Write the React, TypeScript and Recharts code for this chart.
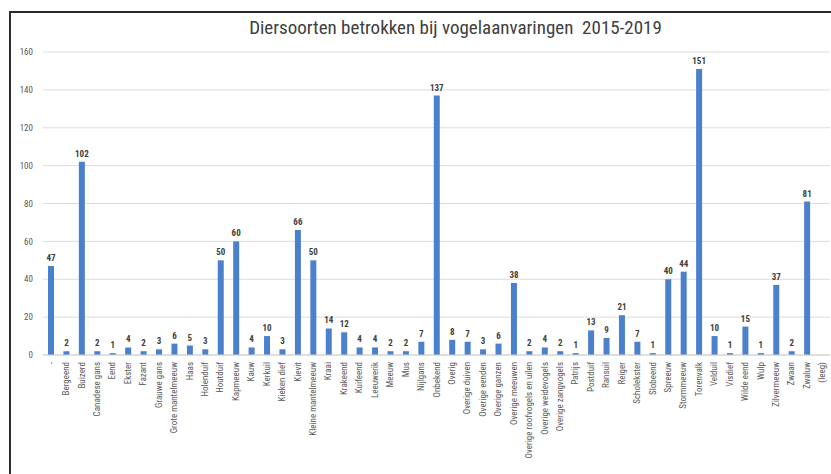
import React from 'react'
import { BarChart, Bar, XAxis, YAxis, CartesianGrid, LabelList } from 'recharts'

const soorten = [
  '-', 'Bergeend', 'Buizerd', 'Canadese gans', 'Eend', 'Ekster', 'Fazant', 'Grauwe gans',
  'Grote mantelmeeuw', 'Haas', 'Holenduif', 'Houtduif', 'Kapmeeuw', 'Kauw', 'Kerkuil',
  'Kieken dief', 'Kievit', 'Kleine mantelmeeuw', 'Kraai', 'Krakeend', 'Kuifeend', 'Leeuwerik',
  'Meeuw', 'Mus', 'Nijlgans', 'Onbekend', 'Overig', 'Overige duiven', 'Overige eenden',
  'Overige ganzen', 'Overige meeuwen', 'Overige roofvogels en uilen', 'Overige weidevogels',
  'Overige zangvogels', 'Patrijs', 'Postduif', 'Ransuil', 'Reiger', 'Scholekster', 'Slobeend',
  'Spreeuw', 'Stormmeeuw', 'Torenvalk', 'Velduil', 'Visdief', 'Wilde eend', 'Wulp',
  'Zilvermeeuw', 'Zwaan', 'Zwaluw', '(leeg)',
]

const aantallen: (number | null)[] = [
  47, 2, 102, 2, 1, 4, 2, 3,
  6, 5, 3, 50, 60, 4, 10,
  3, 66, 50, 14, 12, 4, 4,
  2, 2, 7, 137, 8, 7, 3,
  6, 38, 2, 4,
  2, 1, 13, 9, 21, 7, 1,
  40, 44, 151, 10, 1, 15, 1,
  37, 2, 81, null,
]

const yTicks = [0, 20, 40, 60, 80, 100, 120, 140, 160]

const data = soorten.map((naam, i) => ({ naam, aantal: aantallen[i] }))

const font = "'Liberation Sans Narrow', 'Roboto Condensed', 'Liberation Sans', sans-serif"

const CategoryTick = (props: any) => {
  const { x, y, payload } = props
  return (
    <text
      x={x}
      y={y}
      dy={3}
      transform={`rotate(-90, ${x}, ${y})`}
      textAnchor="end"
      fontSize={9}
      fill="#595959"
      fontFamily={font}
    >
      {payload.value}
    </text>
  )
}

export default function App() {
  return (
    <div style={{ position: 'absolute', left: 0, top: 0, width: 831, height: 474, overflow: 'hidden', background: '#fff' }}>
      <div
        style={{
          position: 'absolute', left: 9, top: 11, width: 840, height: 480,
          border: '2px solid #2b2b2b', boxSizing: 'border-box',
        }}
      />
      <div
        style={{
          position: 'absolute', left: 0, top: 16, width: 911, textAlign: 'center',
          fontFamily: font, fontSize: 19, color: '#404040',
        }}
      >
        Diersoorten betrokken bij vogelaanvaringen&nbsp; 2015-2019
      </div>
      <BarChart
        width={831}
        height={474}
        data={data}
        margin={{ top: 52, right: 1, bottom: 0, left: 0 }}
        barCategoryGap={0}
        style={{ position: 'absolute', left: 0, top: 0 }}
      >
        <CartesianGrid vertical={false} stroke="#dcdcdc" />
        <XAxis
          dataKey="naam"
          interval={0}
          height={119}
          tickLine={false}
          tickSize={0}
          tickMargin={7}
          axisLine={{ stroke: '#d0d0d0' }}
          tick={<CategoryTick />}
        />
        <YAxis
          width={43}
          domain={[0, 160]}
          ticks={yTicks}
          tickLine={false}
          axisLine={false}
          tickSize={0}
          tickMargin={10}
          tick={{ fontSize: 9, fill: '#595959', fontFamily: font }}
        />
        <Bar dataKey="aantal" fill="#4a80cc" barSize={6} isAnimationActive={false}>
          <LabelList
            dataKey="aantal"
            position="top"
            fontSize={9}
            fontWeight="bold"
            fill="#404040"
            fontFamily={font}
          />
        </Bar>
      </BarChart>
    </div>
  )
}
